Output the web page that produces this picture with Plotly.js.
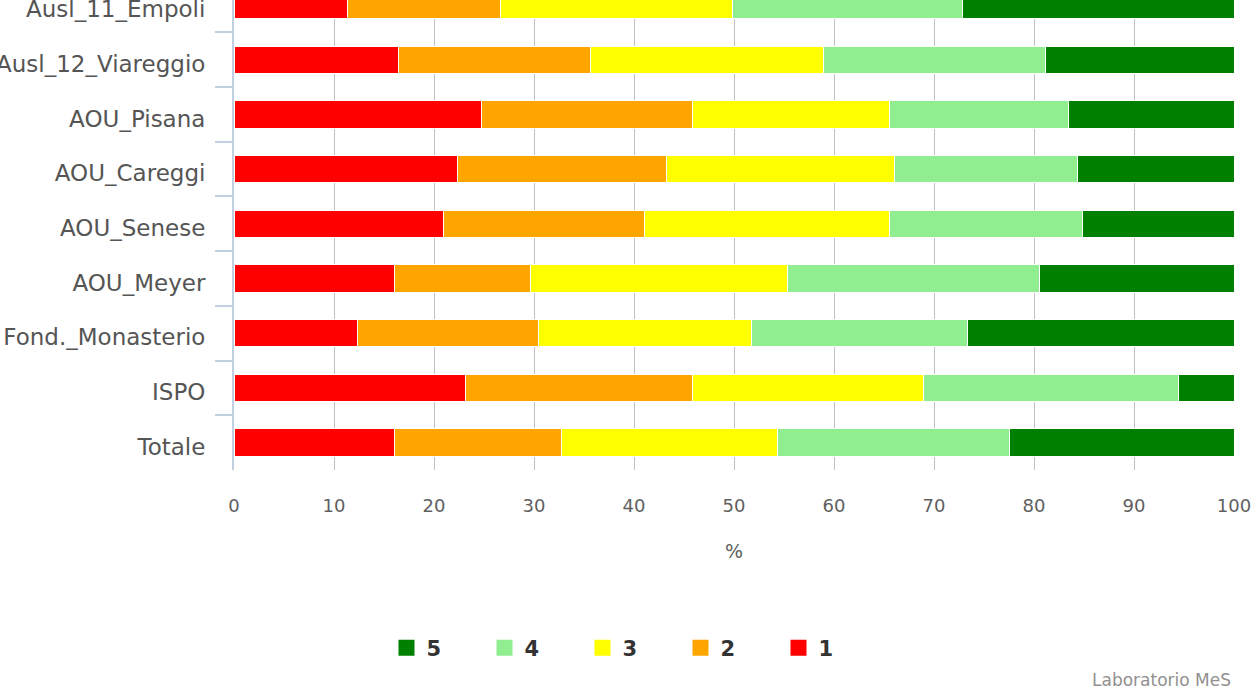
<!DOCTYPE html>
<html>
<head>
<meta charset="utf-8">
<script src="https://cdn.plot.ly/plotly-3.0.1.min.js"></script>
<style>html,body{margin:0;padding:0;background:#fff;}#chart{width:1253px;height:693px;}</style>
</head>
<body>
<div id="chart"></div>
<script>
const categories = ["Ausl_11_Empoli","Ausl_12_Viareggio","AOU_Pisana","AOU_Careggi","AOU_Senese","AOU_Meyer","Fond._Monasterio","ISPO","Totale"];
const score1 = [11.3, 16.4, 24.7, 22.3, 20.9, 16.0, 12.3, 23.1, 16.0];
const score2 = [15.3, 19.2, 21.1, 20.9, 20.1, 13.6, 18.1, 22.7, 16.7];
const score3 = [23.2, 23.3, 19.7, 22.8, 24.5, 25.7, 21.3, 23.1, 21.6];
const score4 = [23.0, 22.2, 17.9, 18.3, 19.3, 25.2, 21.6, 25.5, 23.2];
const score5 = [27.2, 18.9, 16.6, 15.7, 15.2, 19.5, 26.7, 5.6, 22.5];
const seriesNames = ["1","2","3","4","5"];
const seriesColors = ["#FF0000","#FFA500","#FFFF00","#90EE90","#008000"];
const seriesValues = [score1, score2, score3, score4, score5];
const xTicks = [0,10,20,30,40,50,60,70,80,90,100];

const traces = seriesValues.map((vals, i) => ({
  type: "bar",
  orientation: "h",
  name: seriesNames[i],
  legendgroup: seriesNames[i],
  showlegend: false,
  x: vals,
  y: categories,
  marker: {color: seriesColors[i], line: {color: "#FFFFFF", width: 1}},
  hoverinfo: "x+name"
}));
// legend entries with larger square swatches
seriesNames.forEach((n, i) => {
  traces.push({
    type: "scatter", mode: "markers", name: n, legendgroup: n,
    x: [null], y: [null],
    marker: {symbol: "square", size: 16, color: seriesColors[i]},
    hoverinfo: "skip"
  });
});

const font = "DejaVu Sans, Verdana, sans-serif";
const layout = {
  width: 1253, height: 693,
  margin: {l: 234, r: 19, t: 0, b: 223},
  paper_bgcolor: "#FFFFFF", plot_bgcolor: "#FFFFFF",
  barmode: "stack",
  bargap: 0.5,
  showlegend: true,
  legend: {
    orientation: "h", traceorder: "reversed",
    x: 0.3975, xanchor: "center", y: -0.3787, yanchor: "middle",
    font: {family: font, size: 21, color: "#333333", weight: "bold"},
    entrywidth: 53, entrywidthmode: "pixels"
  },
  xaxis: {
    range: [0, 100],
    tickvals: xTicks,
    ticktext: xTicks.map(String),
    showgrid: true, gridcolor: "#C0C0C0", gridwidth: 1,
    zeroline: false, showline: false,
    ticks: "outside", ticklen: 19, tickcolor: "rgba(0,0,0,0)",
    tickfont: {family: font, size: 18, color: "#606060"},
    title: {text: "%", font: {family: font, size: 19, color: "#606060"}, standoff: 30},
    automargin: false, fixedrange: true
  },
  yaxis: {
    type: "category",
    range: [8.5, -0.092],
    showgrid: false, zeroline: false,
    showline: true, linecolor: "#C0D0E0", linewidth: 2,
    ticks: "outside", tickson: "boundaries", ticklen: 17, tickwidth: 2, tickcolor: "#C0D0E0",
    ticklabelstandoff: 22,
    ticklabelshift: -4,
    tickfont: {family: font, size: 23, color: "#555555"},
    automargin: false, fixedrange: true
  },
  annotations: [{
    text: "Laboratorio MeS", xref: "paper", yref: "paper",
    x: 0.999, y: -0.447, xanchor: "right", yanchor: "middle",
    showarrow: false, font: {family: font, size: 17, color: "#909090"}
  }]
};

Plotly.newPlot("chart", traces, layout, {displayModeBar: false, staticPlot: true});
</script>
</body>
</html>
